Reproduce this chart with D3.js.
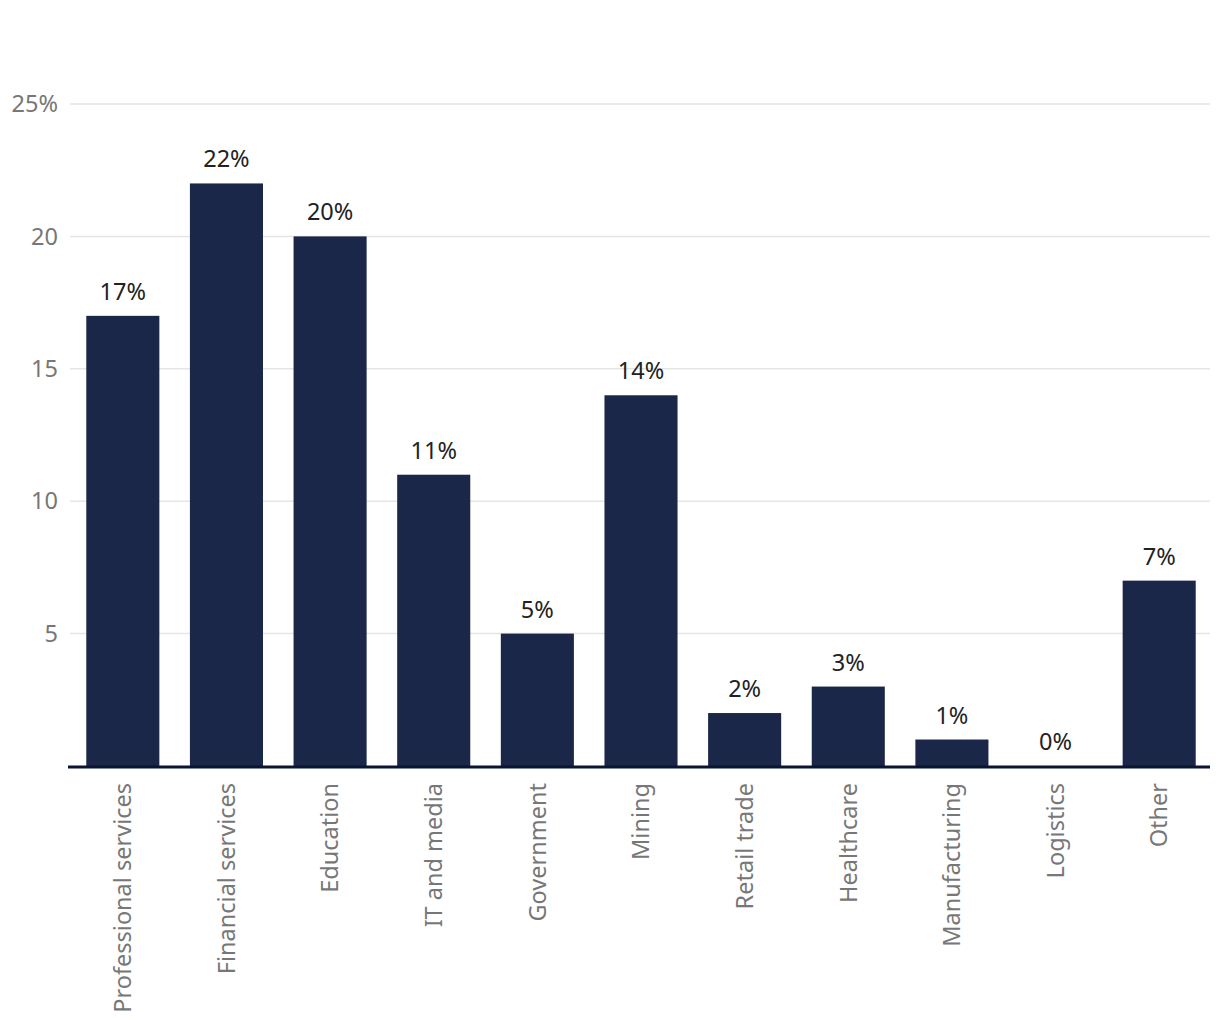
<!DOCTYPE html>
<html>
<head>
<meta charset="utf-8">
<script src="https://cdn.jsdelivr.net/npm/d3@7"></script>
<style>
  body { margin: 0; background: #fff; }
  svg text { font-family: "Noto Sans", "Open Sans", sans-serif; }
</style>
</head>
<body>
<svg id="chart" width="1220" height="1020"></svg>
<script>
// chart data
var categories = ["Professional services", "Financial services", "Education", "IT and media",
  "Government", "Mining", "Retail trade", "Healthcare", "Manufacturing", "Logistics", "Other"];
var values = [17, 22, 20, 11, 5, 14, 2, 3, 1, 0, 7];
var yTicks = [5, 10, 15, 20, 25];
var yTickLabels = ["5", "10", "15", "20", "25%"];

var svg = d3.select("#chart");
var margin = {top: 104, left: 71, right: 10, bottom: 254};
var width = 1220, height = 1020;
var fontSize = "23.5px";

var x = d3.scaleBand()
    .domain(categories)
    .range([margin.left, width - margin.right + 1])
    .paddingInner(0.295)
    .paddingOuter(0.1475);

var y = d3.scaleLinear()
    .domain([0, 25])
    .range([766, 104]);

// gridlines
svg.append("g")
    .selectAll("line")
    .data(yTicks)
    .enter().append("line")
    .attr("x1", 70).attr("x2", 1210)
    .attr("y1", d => y(d)).attr("y2", d => y(d))
    .attr("stroke", "#e5e5e5")
    .attr("stroke-width", 1.5);

// y tick labels
svg.append("g")
    .selectAll("text")
    .data(yTicks)
    .enter().append("text")
    .attr("x", 58)
    .attr("y", d => y(d))
    .attr("dy", "0.35em")
    .attr("text-anchor", "end")
    .style("font-size", fontSize)
    .style("fill", "#777")
    .text((d, i) => yTickLabels[i]);

// bars
svg.append("g")
    .selectAll("rect")
    .data(values)
    .enter().append("rect")
    .attr("x", (d, i) => x(categories[i]))
    .attr("width", x.bandwidth())
    .attr("y", d => y(d))
    .attr("height", d => y(0) - y(d))
    .attr("fill", "#1b2748");

// value labels
svg.append("g")
    .selectAll("text")
    .data(values)
    .enter().append("text")
    .attr("x", (d, i) => x(categories[i]) + x.bandwidth() / 2)
    .attr("y", d => y(d) - 16)
    .attr("text-anchor", "middle")
    .style("font-size", fontSize)
    .style("fill", "#222")
    .text(d => d + "%");

// baseline
svg.append("line")
    .attr("x1", 68).attr("x2", 1210)
    .attr("y1", y(0) + 1).attr("y2", y(0) + 1)
    .attr("stroke", "#0b1533")
    .attr("stroke-width", 3);

// category labels, rotated
svg.append("g")
    .selectAll("text")
    .data(categories)
    .enter().append("text")
    .attr("transform", d => "translate(" + (x(d) + x.bandwidth() / 2) + ",783) rotate(-90)")
    .attr("dy", "0.35em")
    .attr("text-anchor", "end")
    .style("font-size", fontSize)
    .style("fill", "#777")
    .text(d => d);
</script>
</body>
</html>
